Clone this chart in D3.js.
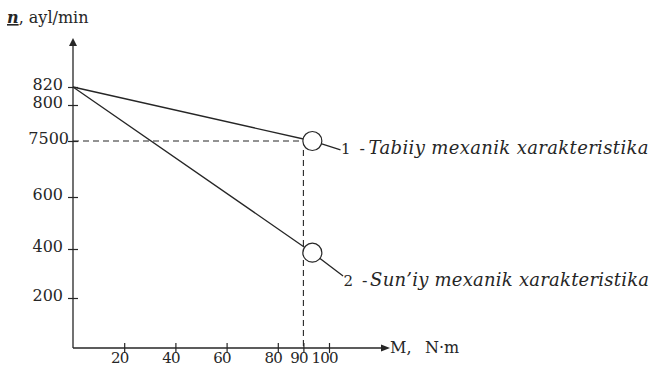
<!DOCTYPE html>
<html>
<head>
<meta charset="utf-8">
<script src="https://cdn.jsdelivr.net/npm/d3@7/dist/d3.min.js"></script>
<style>
  html, body { margin: 0; padding: 0; background: #fff; }
  svg { display: block; }
  text { fill: #262626; font-family: "DejaVu Serif", "Liberation Serif", serif; }
</style>
</head>
<body>
<svg id="chart" width="652" height="369"></svg>
<script>
// ---- data ----
const xTicks = [20, 40, 60, 80, 90, 100];
const xTickLabels = ["20", "40", "60", "80", "90", "100"];
const yTicks = [200, 400, 600, 750, 800, 820];
const yTickLabels = ["200", "400", "600", "7500", "800", "820"];

// series: torque M (N·m) vs speed n (ayl/min); last point is the leader to the label
const torque1 = [0, 93.5, 104.5];
const speed1  = [820, 750, 726];
const torque2 = [0, 93.5, 105.5];
const speed2  = [820, 385, 290];

const seriesNames = ["Tabiiy mexanik xarakteristika", "Sun\u2019iy mexanik xarakteristika"];
const seriesNumbers = ["1", "2"];

// guide lines (rated point)
const guideM = 90;
const guideN = 750;

const yAxisTitle = ["n", ", ayl/min"];
const xAxisTitle = ["M,", "N\u00b7m"];

// ---- layout ----
const svg = d3.select("#chart");
const x0 = 73, y0 = 348;

const x = d3.scaleLinear().domain([0, 100]).range([x0, 329]);
// schematic (not-to-scale) vertical axis, as in the original drawing
const y = d3.scaleLinear()
  .domain([0, 200, 400, 600, 750, 800, 820])
  .range([y0, 298, 249, 197, 141, 105, 87]);

const ink = "#262626";

// axes lines
svg.append("line").attr("x1", x0).attr("y1", y0).attr("x2", x0).attr("y2", 44)
  .attr("stroke", ink).attr("stroke-width", 1.3);
svg.append("path").attr("d", `M${x0},38 L${x0 - 4},46 L${x0 + 4},46 Z`).attr("fill", ink);

svg.append("line").attr("x1", x0).attr("y1", y0).attr("x2", 383).attr("y2", y0)
  .attr("stroke", ink).attr("stroke-width", 1.3);
svg.append("path").attr("d", `M390,${y0} L381,${y0 - 3.5} L381,${y0 + 3.5} Z`).attr("fill", ink);

// y ticks
const yAxis = d3.axisLeft(y).tickValues(yTicks).tickSize(0).tickFormat("");
const gy = svg.append("g").attr("transform", `translate(${x0},0)`).call(yAxis);
gy.select(".domain").remove();
gy.selectAll(".tick").append("line")
  .attr("x1", -5).attr("x2", 5).attr("stroke", ink).attr("stroke-width", 1.2);
gy.selectAll(".tick").append("text")
  .attr("x", (d, i) => yTickLabels[i].length > 3 ? -4 : -10)
  .attr("y", 2)
  .attr("text-anchor", "end")
  .attr("font-size", 16)
  .style("fill", ink)
  .text((d, i) => yTickLabels[i]);

// x ticks
const xAxis = d3.axisBottom(x).tickValues(xTicks).tickSize(0).tickFormat("");
const gx = svg.append("g").attr("transform", `translate(0,${y0})`).call(xAxis);
gx.select(".domain").remove();
gx.selectAll(".tick").append("line")
  .attr("y1", -5).attr("y2", 5).attr("stroke", ink).attr("stroke-width", 1.2);
gx.selectAll(".tick").append("text")
  .attr("x", -5).attr("y", 15)
  .attr("text-anchor", "middle")
  .attr("font-size", 15)
  .attr("letter-spacing", -0.8)
  .style("fill", ink)
  .text((d, i) => xTickLabels[i]);

// dashed guides
svg.append("line")
  .attr("x1", x(0)).attr("y1", y(guideN)).attr("x2", x(torque1[1]) - 10).attr("y2", y(guideN))
  .attr("stroke", ink).attr("stroke-width", 1.1).attr("stroke-dasharray", "6,4");
svg.append("line")
  .attr("x1", x(guideM)).attr("y1", y(guideN) + 9).attr("x2", x(guideM)).attr("y2", y0)
  .attr("stroke", ink).attr("stroke-width", 1.1).attr("stroke-dasharray", "6,4");

// characteristic lines
const line = d3.line().x(d => x(d[0])).y(d => y(d[1]));
const series = [
  d3.zip(torque1, speed1),
  d3.zip(torque2, speed2)
];
svg.selectAll("path.series").data(series).enter().append("path")
  .attr("class", "series")
  .attr("d", line)
  .attr("fill", "none").attr("stroke", ink).attr("stroke-width", 1.3);

// operating-point circles
svg.selectAll("circle.pt").data(series).enter().append("circle")
  .attr("class", "pt")
  .attr("cx", d => x(d[1][0])).attr("cy", d => y(d[1][1]))
  .attr("r", 9.5)
  .attr("fill", "#fff").attr("stroke", ink).attr("stroke-width", 1.2);

// labels at end of leaders
series.forEach((s, i) => {
  const end = s[s.length - 1];
  const ex = x(end[0]), ey = y(end[1]);
  const base = i === 0 ? ey + 4 : ey + 10;
  svg.append("text").attr("x", ex + 0.5).attr("y", base)
    .attr("font-size", 15).text(seriesNumbers[i]);
  svg.append("text").attr("x", ex + (i === 0 ? 19 : 19)).attr("y", base)
    .attr("font-size", 16).text("-");
  svg.append("text").attr("x", ex + (i === 0 ? 28 : 27)).attr("y", base)
    .attr("font-size", 18).attr("font-style", "italic")
    .attr("textLength", i === 0 ? 280 : 279).attr("lengthAdjust", "spacing")
    .text(seriesNames[i]);
});

// axis titles
const yt = svg.append("text").attr("x", 7).attr("y", 23).attr("font-size", 16);
yt.append("tspan").attr("font-style", "italic").attr("font-weight", "bold")
  .attr("text-decoration", "underline").text(yAxisTitle[0]);
yt.append("tspan").text(yAxisTitle[1]);

svg.append("text").attr("x", 390).attr("y", 353).attr("font-size", 16).text(xAxisTitle[0]);
svg.append("text").attr("x", 425).attr("y", 353).attr("font-size", 16).text(xAxisTitle[1]);
</script>
</body>
</html>
